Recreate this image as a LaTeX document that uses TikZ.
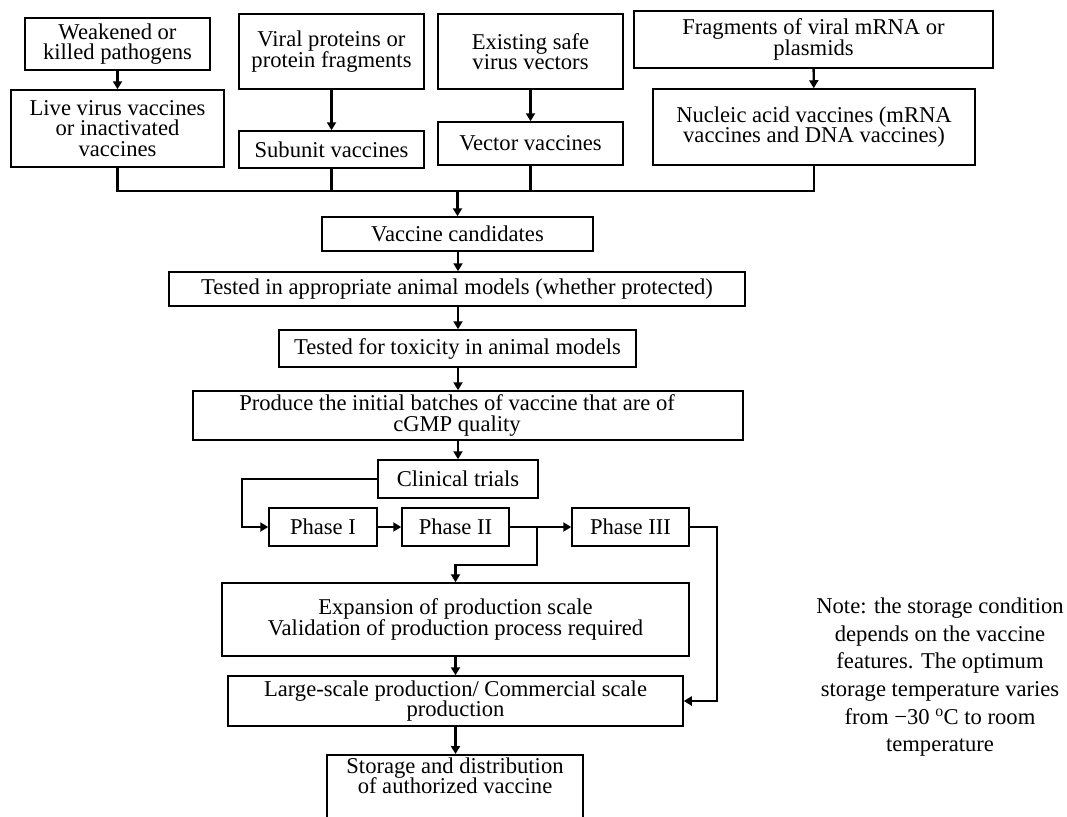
\documentclass[tikz,border=0pt]{standalone}
\usepackage{fontspec}
\setmainfont{Liberation Serif}
\usetikzlibrary{arrows.meta,calc}
\newcommand\bxfont{\fontsize{22.6}{20.5}\selectfont\lineskiplimit=-30pt\lineskip=0pt}
\newcommand\ntfont{\fontsize{22.6}{27.7}\selectfont\lineskiplimit=-30pt\lineskip=0pt}
\begin{document}
\begin{tikzpicture}[x=1pt,y=-1pt,
  box/.style={draw=black, line width=1.5pt, inner sep=0pt, align=center, font=\bxfont},
  txt/.style={inner sep=0pt, align=center, font=\bxfont},
  conn/.style={line width=2.4pt, draw=black},
  arr/.style={conn, -{Triangle[length=8pt,width=9pt]}},
  notetext/.style={align=center, inner sep=0pt, font=\ntfont}]
\fill[white] (0,0) rectangle (1067,816);
\useasboundingbox (0,0) rectangle (1067,816);
% top row
\node[box, minimum width=185, minimum height=52] (weak) at (117.5,44) {Weakened or\\killed pathogens};
\node[box, minimum width=213, minimum height=77] (live) at (117.5,128.5) {Live virus vaccines\\or inactivated\\vaccines};
\node[box, minimum width=185, minimum height=75] (viral) at (331.5,51.5) {Viral proteins or\\protein fragments};
\node[box, minimum width=185, minimum height=37] (sub) at (331.5,149.5) {Subunit vaccines};
\node[box, minimum width=185, minimum height=75] (exist) at (530.5,51.5) {Existing safe\\virus vectors};
\node[box, minimum width=185, minimum height=43] (vec) at (530.5,143.5) {Vector vaccines};
\node[box, minimum width=359, minimum height=57] (frag) at (813.5,39.5) {Fragments of viral mRNA or\\plasmids};
\node[box, minimum width=322, minimum height=76] (nuc) at (814,127) {Nucleic acid vaccines (mRNA\\vaccines and DNA vaccines)};
\coordinate (bus) at (458,191);
\coordinate (spine) at (458,0);
% main column
\node[box, minimum width=271, minimum height=34] (cand) at (457.5,234) {Vaccine candidates};
\node[box, minimum width=576, minimum height=34] (animal) at (457,289) {Tested in appropriate animal models (whether protected)};
\node[box, minimum width=357, minimum height=37] (tox) at (457.5,348.5) {Tested for toxicity in animal models};
\node[box, minimum width=550, minimum height=49] (prod) at (468,415.5) {};
\node[txt] (prodtext) at (457,415.5) {Produce the initial batches of vaccine that are of\\cGMP quality};
\node[box, minimum width=160, minimum height=38] (clin) at (458,479) {Clinical trials};
\node[box, minimum width=108, minimum height=38] (p1) at (323,527) {Phase I};
\node[box, minimum width=107, minimum height=38] (p2) at (455.5,527) {Phase II};
\node[box, minimum width=117, minimum height=38] (p3) at (630.5,527) {Phase III};
\node[box, minimum width=467, minimum height=73] (exp) at (455.5,619.5) {Expansion of production scale\\Validation of production process required};
\node[box, minimum width=455, minimum height=50] (large) at (455.5,701) {Large-scale production/ Commercial scale\\production};
\node[box, minimum width=256, minimum height=80, anchor=north] (store) at (455,754) {};
\node[txt, anchor=north] (storetext) at (455,757.5) {Storage and distribution\\of authorized vaccine};
\node[notetext, anchor=north] (note) at (940,597.6) {Note: the storage condition\\depends on the vaccine\\features. The optimum\\storage temperature varies\\from −30 \textsuperscript{o}C to room\\temperature};
% connectors, top
\draw[arr] (weak) -- (live);
\draw[arr] (viral) -- (sub);
\draw[arr] (exist) -- (vec);
\draw[arr] (frag) -- (nuc);
\draw[conn] (live.south) -- (live.south |- bus) -- (nuc.south |- bus) -- (nuc.south);
\draw[conn] (sub.south) -- (sub.south |- bus);
\draw[conn] (vec.south) -- (vec.south |- bus);
\draw[arr] (cand.north |- bus) -- (cand.north);
% main column
\draw[arr] (cand.south -| spine) -- (animal.north -| spine);
\draw[arr] (animal.south -| spine) -- (tox.north -| spine);
\draw[arr] (tox.south -| spine) -- (prod.north -| spine);
\draw[arr] (prod.south -| spine) -- (clin.north -| spine);
\coordinate (loopL) at (242,0);
\draw[arr] (clin.west) -- (clin.west -| loopL) |- (p1.west);
\draw[arr] (p1) -- (p2);
\draw[arr] (p2) -- (p3);
\coordinate (brx) at (537,0);
\draw[arr] (p2.east -| brx) -- ++(0,38) -| (exp.north);
\coordinate (rx) at (717,0);
\draw[arr] (p3.east) -- (p3.east -| rx) |- (large.east);
\draw[arr] (exp) -- (large);
\draw[arr] (large.south) -- (large.south |- store.north);
\end{tikzpicture}
\end{document}
